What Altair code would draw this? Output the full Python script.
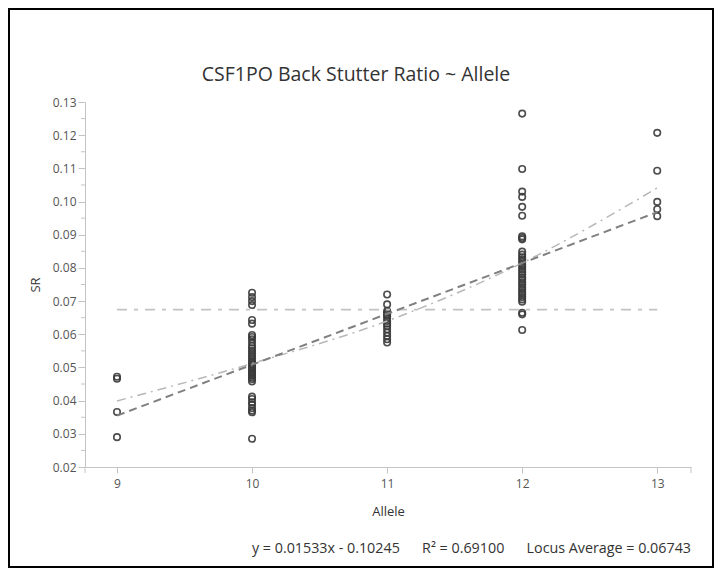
import altair as alt
import pandas as pd

# ---- data ----
allele_9 = [0.0472, 0.0466, 0.0366, 0.0290]
allele_10 = [0.0725, 0.0712, 0.0700, 0.0688, 0.0643, 0.0632, 0.0598, 0.0592, 0.0585,
             0.0575, 0.0565, 0.0558, 0.0550, 0.0543, 0.0535, 0.0528, 0.0520, 0.0515,
             0.0510, 0.0505, 0.0500, 0.0496, 0.0490, 0.0485, 0.0480, 0.0475, 0.0470,
             0.0465, 0.0458, 0.0412, 0.0405, 0.0395, 0.0388, 0.0378, 0.0370, 0.0365,
             0.0285]
allele_11 = [0.0720, 0.0690, 0.0670, 0.0665, 0.0660, 0.0655, 0.0648, 0.0640, 0.0632,
             0.0625, 0.0615, 0.0605, 0.0595, 0.0585, 0.0575]
allele_12 = [0.1265, 0.1098, 0.1030, 0.1014, 0.0984, 0.0957, 0.0895, 0.0890, 0.0886,
             0.0849, 0.0840, 0.0832, 0.0825, 0.0818, 0.0810, 0.0803, 0.0795, 0.0788,
             0.0780, 0.0772, 0.0765, 0.0757, 0.0750, 0.0742, 0.0735, 0.0727, 0.0720,
             0.0712, 0.0705, 0.0698, 0.0665, 0.0660, 0.0613]
allele_13 = [0.1207, 0.1093, 0.0999, 0.0977, 0.0956]

fit_x = [9, 13]
fit_y = [0.0355, 0.0968]          # y = 0.01533x - 0.10245
avg_y = [0.06743, 0.06743]        # locus average
curve_x = [9, 10, 11, 12, 13]
curve_y = [0.0399, 0.0512, 0.0640, 0.0815, 0.1041]

y_major = [0.02, 0.03, 0.04, 0.05, 0.06, 0.07, 0.08, 0.09, 0.10, 0.11, 0.12, 0.13]
y_minor = [0.025, 0.035, 0.045, 0.055, 0.065, 0.075, 0.085, 0.095, 0.105, 0.115, 0.125]
x_ticks = [9, 10, 11, 12, 13]
x_domain = [8.763, 13.25]
y_domain = [0.02, 0.13]

title_text = "CSF1PO Back Stutter Ratio ~ Allele"
footer_text = ("y = 0.01533x - 0.10245" + "\u00a0" * 6 + "R\u00b2 = 0.69100"
               + "\u00a0" * 6 + "Locus Average = 0.06743")

FONT = "Open Sans"
W, H = 606, 365
AXIS_GRAY = "#c4c4c4"

# ---- tables ----
rows = []
for a, vals in zip([9, 10, 11, 12, 13], [allele_9, allele_10, allele_11, allele_12, allele_13]):
    for v in vals:
        rows.append({"Allele": a, "SR": v})
pts = pd.DataFrame(rows)
fit_df = pd.DataFrame({"Allele": fit_x, "SR": fit_y})
avg_df = pd.DataFrame({"Allele": fit_x, "SR": avg_y})
curve_df = pd.DataFrame({"Allele": curve_x, "SR": curve_y})
minor_df = pd.DataFrame({"SR": y_minor})
ends_df = pd.DataFrame({"Allele": x_domain})
one = pd.DataFrame({"k": [0]})

xs = alt.Scale(domain=x_domain, nice=False, zero=False)
ys = alt.Scale(domain=y_domain, nice=False, zero=False)

x_axis = alt.Axis(values=x_ticks, format="d", tickSize=6, labelPadding=5,
                  titlePadding=16, grid=False, labelOverlap=False)
y_axis = alt.Axis(values=y_major, format=".2f", tickSize=7, labelPadding=2,
                  titlePadding=10, grid=False, labelOverlap=False)
x_enc = alt.X("Allele:Q", scale=xs, title="Allele", axis=x_axis)
y_enc = alt.Y("SR:Q", scale=ys, title="SR", axis=y_axis)

points = alt.Chart(pts).mark_point(shape="circle", filled=False, size=42,
                                   strokeWidth=1.6, color="#3a3a3a", opacity=0.9).encode(
    x=x_enc, y=y_enc)

avg_line = alt.Chart(avg_df).mark_line(color="#c2c2c2", strokeWidth=1.6,
                                       strokeDash=[10, 7, 4, 7]).encode(x=x_enc, y=y_enc)

curve_line = alt.Chart(curve_df).mark_line(color="#b8b8b8", strokeWidth=1.5,
                                           interpolate="monotone",
                                           strokeDash=[9, 5, 2, 5]).encode(x=x_enc, y=y_enc)

fit_line = alt.Chart(fit_df).mark_line(color="#808080", strokeWidth=2,
                                       strokeDash=[8, 5]).encode(x=x_enc, y=y_enc)

minor_ticks = alt.Chart(minor_df).mark_rule(color=AXIS_GRAY, strokeWidth=1).encode(
    y=y_enc, x=alt.value(-4), x2=alt.value(0))

end_ticks = alt.Chart(ends_df).mark_rule(color=AXIS_GRAY, strokeWidth=1).encode(
    x=x_enc, y=alt.value(H), y2=alt.value(H + 6))

title = alt.Chart(one).mark_text(text=title_text, font=FONT, fontSize=19.5,
                                 color="#333333", align="center", baseline="middle").encode(
    x=alt.value(271), y=alt.value(-27))

footer = alt.Chart(one).mark_text(text=footer_text, font=FONT, fontSize=14.3,
                                  color="#333333", align="right", baseline="middle").encode(
    x=alt.value(W), y=alt.value(447))

frame = alt.Chart(one).mark_rect(fill="transparent", stroke="black", strokeWidth=2).encode(
    x=alt.value(-76), x2=alt.value(628), y=alt.value(-93), y2=alt.value(465))

chart = alt.layer(points, avg_line, curve_line, fit_line, minor_ticks, end_ticks,
                  title, footer, frame).properties(
    width=W, height=H,
    background="white",
    autosize=alt.AutoSizeParams(type="none"),
    padding={"left": 77, "top": 94, "right": 23, "bottom": 101},
).configure_view(stroke=None).configure_axis(
    domainColor=AXIS_GRAY, tickColor=AXIS_GRAY, labelColor="#555555",
    labelFont=FONT, labelFontSize=12, titleFont=FONT, titleFontSize=13,
    titleFontWeight="normal", titleColor="#333333",
)

chart.save("out.html", embed_options={"renderer": "svg", "actions": False})
